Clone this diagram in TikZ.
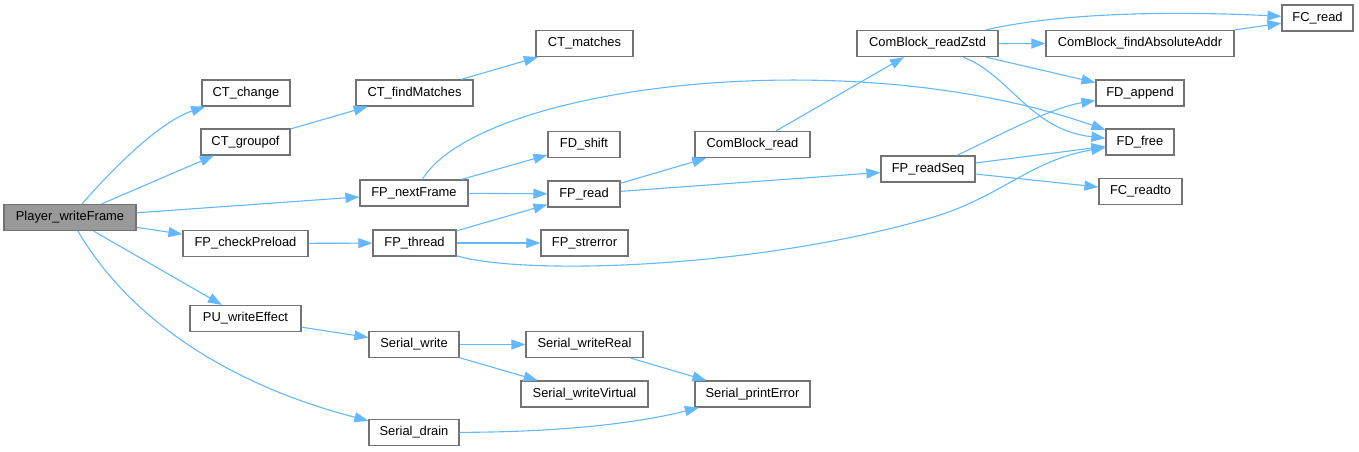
\documentclass[tikz,border=0pt]{standalone}
\usepackage{fontspec}
\setmainfont{Liberation Sans}
\usetikzlibrary{arrows.meta}
\begin{document}
\begin{tikzpicture}[x=1pt,y=-1pt,font=\fontsize{12.9}{15}\selectfont,
  fn/.style={draw=frame,fill=white,line width=1.2pt,minimum height=26pt,inner sep=0pt},
  call/.style={draw=link,line width=1.1pt,-{Triangle[length=14pt,width=10pt]}}]
\definecolor{link}{HTML}{63B8FF}\definecolor{frame}{HTML}{737373}
\definecolor{root}{HTML}{999999}
\useasboundingbox (0,0) rectangle (1359,451);
\node[fn,fill=root,minimum width=132pt] (writeframe) at (70,217.5) {Player\_writeFrame};
\node[fn,minimum width=88pt] (ctchange) at (246,93) {CT\_change};
\node[fn,minimum width=89pt] (ctgroupof) at (245.5,142) {CT\_groupof};
\node[fn,minimum width=117pt] (ctfind) at (414.5,93) {CT\_findMatches};
\node[fn,minimum width=97pt] (ctmatches) at (584.5,43.5) {CT\_matches};
\node[fn,minimum width=108pt] (nextframe) at (414,193) {FP\_nextFrame};
\node[fn,minimum width=125pt] (preload) at (245.5,243.5) {FP\_checkPreload};
\node[fn,minimum width=111pt] (writeeffect) at (245.5,318.5) {PU\_writeEffect};
\node[fn,minimum width=83pt] (thread) at (414.5,243) {FP\_thread};
\node[fn,minimum width=90pt] (swrite) at (414,344.5) {Serial\_write};
\node[fn,minimum width=90pt] (sdrain) at (414,432.5) {Serial\_drain};
\node[fn,minimum width=72pt] (fdshift) at (584,144.5) {FD\_shift};
\node[fn,minimum width=72pt] (fpread) at (584,194) {FP\_read};
\node[fn,minimum width=87pt] (strerror) at (584.5,243) {FP\_strerror};
\node[fn,minimum width=117pt] (swreal) at (584.5,344.5) {Serial\_writeReal};
\node[fn,minimum width=127pt] (swvirtual) at (584.5,394) {Serial\_writeVirtual};
\node[fn,minimum width=115pt] (cbread) at (752.5,144.5) {ComBlock\_read};
\node[fn,minimum width=115pt] (sprint) at (752.5,394) {Serial\_printError};
\node[fn,minimum width=141pt] (cbzstd) at (927.5,43.5) {ComBlock\_readZstd};
\node[fn,minimum width=94pt] (readseq) at (928,169) {FP\_readSeq};
\node[fn,minimum width=188pt] (absaddr) at (1140,43.5) {ComBlock\_findAbsoluteAddr};
\node[fn,minimum width=88pt] (fdappend) at (1140,93) {FD\_append};
\node[fn,minimum width=68pt] (fdfree) at (1140,142) {FD\_free};
\node[fn,minimum width=83pt] (fcreadto) at (1140.5,191.5) {FC\_readto};
\node[fn,minimum width=71pt] (fcread) at (1317.5,18) {FC\_read};
% calls out of Player_writeFrame
\draw[call] (writeframe) .. controls (125,155) and (165,120) .. (ctchange);
\draw[call] (writeframe) -- (ctgroupof);
\draw[call] (writeframe) -- (nextframe);
\draw[call] (writeframe) -- (preload);
\draw[call] (writeframe) -- (writeeffect);
\draw[call] (writeframe) .. controls (130,320) and (230,385) .. (sdrain);
\draw[call] (ctgroupof) -- (ctfind);
\draw[call] (ctfind) -- (ctmatches);
\draw[call] (nextframe) .. controls (480,85) and (850,40) .. (fdfree);
\draw[call] (nextframe) -- (fdshift);
\draw[call] (nextframe) -- (fpread);
\draw[call] (fpread) -- (cbread);
\draw[call] (fpread) -- (readseq);
\draw[call] (cbread) -- (cbzstd);
\draw[call] (cbzstd) .. controls (1050,15) and (1150,10) .. (fcread);
\draw[call] (cbzstd) -- (absaddr);
\draw[call] (cbzstd) -- (fdappend);
\draw[call] (cbzstd) .. controls (1010,75) and (1030,130) .. (fdfree);
\draw[call] (absaddr) -- (fcread);
\draw[call] (readseq) .. controls (1000,135) and (1050,108) .. (fdappend);
\draw[call] (readseq) -- (fdfree);
\draw[call] (readseq) -- (fcreadto);
\draw[call] (preload) -- (thread);
\draw[call] (thread) -- (fpread);
\draw[call] (thread) -- (strerror);
\draw[call] (thread) .. controls (520,275) and (750,270) .. (930,218)
  .. controls (1000,198) and (1030,160) .. (fdfree);
\draw[call] (writeeffect) -- (swrite);
\draw[call] (swrite) -- (swreal);
\draw[call] (swrite) -- (swvirtual);
\draw[call] (swreal) -- (sprint);
\draw[call] (sdrain) .. controls (580,432) and (650,420) .. (sprint);
\end{tikzpicture}
\end{document}
